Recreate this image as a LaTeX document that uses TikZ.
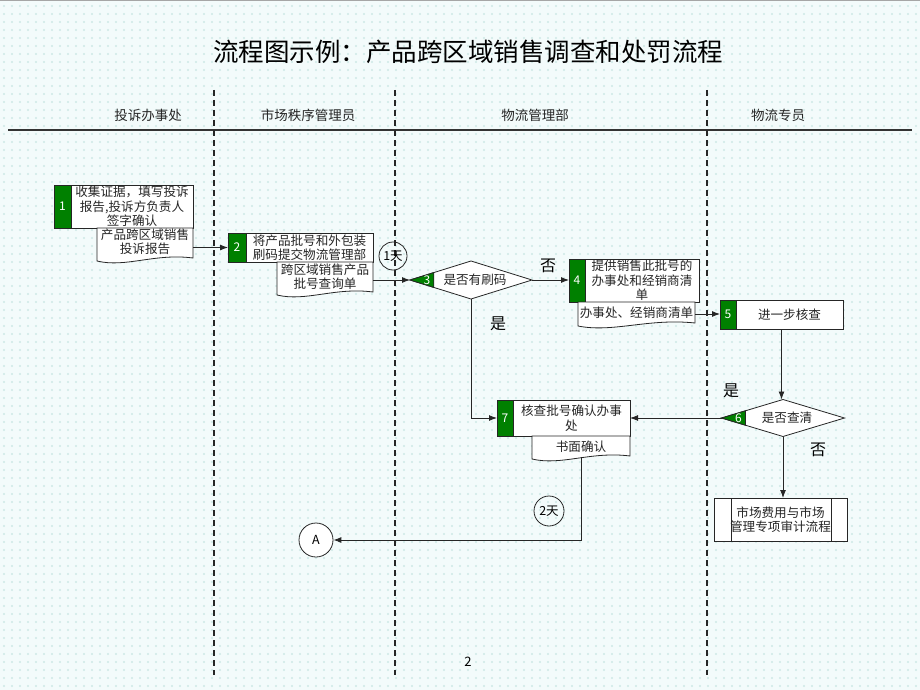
\documentclass[tikz,border=0pt]{standalone}
\usepackage{fontspec}
\setmainfont{Noto Sans CJK SC}
\usetikzlibrary{arrows.meta,patterns,calc}
\definecolor{bgc}{RGB}{243,251,251}
\definecolor{dotc}{RGB}{205,232,230}
\definecolor{gr}{RGB}{0,128,0}
\pgfdeclarepatternformonly{bgdots}{\pgfpoint{-1pt}{-1pt}}{\pgfpoint{9pt}{9pt}}{\pgfpoint{8pt}{8pt}}{\pgfpathcircle{\pgfpoint{4pt}{4pt}}{1.1pt}\pgfusepath{fill}}
\newcommand\docoutline[1]{%
  \draw[docline] (#1.south west) -- (#1.north west) -- (#1.north east) -- ($(#1.south east)+(0,-3)$)
    .. controls ($(#1.south west)!0.6!(#1.south east)+(0,-8)$) and ($(#1.south west)!0.3!(#1.south east)+(0,7)$) .. (#1.south west) -- cycle;}
\newcommand\diamondoutline[2]{%
  \draw[docline] (#1.west) -- (#1.north) -- (#1.east) -- (#1.south) -- cycle;
  \draw[docline, fill=gr] (#1.west) -- ($(#1.west)!#2!(#1.north)$) -- ($(#1.west)!#2!(#1.south)$) -- cycle;}
\begin{document}
\begin{tikzpicture}[x=1pt,y=-1pt,
  bx/.style={draw=black!85, fill=white, line width=0.8pt, rectangle, inner sep=0pt, outer sep=0pt, anchor=north west},
  area/.style={rectangle, inner sep=0pt, outer sep=0pt, anchor=north west},
  docline/.style={draw=black!85, fill=white, line width=0.8pt},
  stripe/.style={draw=black!85, fill=gr, line width=0.8pt},
  num/.style={text=white, font=\fontsize{12}{14}\selectfont, inner sep=0pt},
  txt/.style={align=center, font=\fontsize{12.6}{14.4}\selectfont, inner sep=0pt, text=black!85},
  lbl/.style={font=\fontsize{16}{18}\selectfont, inner sep=0pt},
  hdr/.style={font=\fontsize{13.5}{15}\selectfont, inner sep=0pt, text=black!85},
  circ/.style={draw=black!85, circle, line width=0.8pt, inner sep=0pt, font=\fontsize{12.5}{14}\selectfont},
  lane/.style={dashed, dash pattern=on 6pt off 4pt, line width=1.1pt, black!85},
  arr/.style={line width=0.9pt, black!85, -{Latex[length=8pt,width=6pt]}}]
\useasboundingbox (0,0) rectangle (920,690);
\fill[bgc] (0,0) rectangle (920,690);
\fill[pattern=bgdots, pattern color=dotc] (0,0) rectangle (920,690);
\draw[gray!70, line width=1.5pt] (0,0.75) -- (920,0.75);

% title and headers
\node[font=\fontsize{25.5}{28}\selectfont, inner sep=0pt] (title) at (468,52) {流程图示例：产品跨区域销售调查和处罚流程};
\node[hdr] (h1) at (148,115) {投诉办事处};
\node[hdr] (h2) at (308,115) {市场秩序管理员};
\node[hdr] (h3) at (535,115) {物流管理部};
\node[hdr] (h4) at (778,115) {物流专员};
\draw[black!80, line width=1.8pt] (8,130) -- (912,130);
\draw[lane] (214,90) -- (214,675);
\draw[lane] (395,90) -- (395,675);
\draw[lane] (707,90) -- (707,675);

% box 1 and its document
\node[bx, minimum width=139pt, minimum height=43pt] (b1) at (54,185) {};
\draw[stripe] (b1.north west) rectangle ([xshift=17pt]b1.south west);
\node[num] (n1) at ($(b1.west)+(8.5,0)$) {1};
\node[txt] (t1) at ($(b1.west)!0.5!(b1.east)+(8.5,0)$) {收集证据，填写投诉\\报告,投诉方负责人\\签字确认};
\node[area, minimum width=96pt, minimum height=33pt] (dc1) at (97,228) {};
\docoutline{dc1}
\node[txt] (dt1) at ($(dc1.center)+(0,-3)$) {产品跨区域销售\\投诉报告};

% box 2 and its document
\node[bx, minimum width=145pt, minimum height=29pt] (b2) at (228,233) {};
\draw[stripe] (b2.north west) rectangle ([xshift=18pt]b2.south west);
\node[num] (n2) at ($(b2.west)+(9,0)$) {2};
\node[txt] (t2) at ($(b2.west)!0.5!(b2.east)+(9,0)$) {将产品批号和外包装\\刷码提交物流管理部};
\node[area, minimum width=96pt, minimum height=33pt] (dc2) at (277,262) {};
\docoutline{dc2}
\node[txt] (dt2) at ($(dc2.center)+(0,-2)$) {跨区域销售产品\\批号查询单};
\node[circ, minimum size=28pt] (c1) at (393,256) {1天};

% decision 3
\node[rectangle, inner sep=0pt, outer sep=0pt, minimum width=122pt, minimum height=38pt] (d3) at (471,280) {};
\diamondoutline{d3}{0.39}
\node[num] (n3) at ($(d3.west)+(17,0)$) {3};
\node[txt] (t3) at ($(d3.center)+(4,0)$) {是否有刷码};
\node[lbl] (no3) at (548,266) {否};
\node[lbl] (yes3) at (498,324) {是};

% box 4 and its document
\node[bx, minimum width=130pt, minimum height=43pt] (b4) at (569,259) {};
\draw[stripe] (b4.north west) rectangle ([xshift=16pt]b4.south west);
\node[num] (n4) at ($(b4.west)+(8,0)$) {4};
\node[txt] (t4) at ($(b4.west)!0.5!(b4.east)+(8,0)$) {提供销售此批号的\\办事处和经销商清\\单};
\node[area, minimum width=117pt, minimum height=24pt] (dc4) at (578,302) {};
\docoutline{dc4}
\node[txt] (dt4) at ($(dc4.center)+(0,-1)$) {办事处、经销商清单};

% box 5
\node[bx, minimum width=123pt, minimum height=29pt] (b5) at (720,300) {};
\draw[stripe] (b5.north west) rectangle ([xshift=16pt]b5.south west);
\node[num] (n5) at ($(b5.west)+(8,0)$) {5};
\node[txt] (t5) at ($(b5.west)!0.5!(b5.east)+(8,0)$) {进一步核查};

% decision 6
\node[rectangle, inner sep=0pt, outer sep=0pt, minimum width=123pt, minimum height=37pt] (d6) at (783,418) {};
\diamondoutline{d6}{0.39}
\node[num] (n6) at ($(d6.west)+(17,0)$) {6};
\node[txt] (t6) at ($(d6.center)+(4,0)$) {是否查清};
\node[lbl] (yes6) at (731,391) {是};
\node[lbl] (no6) at (818,450) {否};

% box 7 and its document
\node[bx, minimum width=133pt, minimum height=36pt] (b7) at (497,400) {};
\draw[stripe] (b7.north west) rectangle ([xshift=16pt]b7.south west);
\node[num] (n7) at ($(b7.west)+(8,0)$) {7};
\node[txt] (t7) at ($(b7.west)!0.5!(b7.east)+(8,0)$) {核查批号确认办事\\处};
\node[area, minimum width=98pt, minimum height=23pt] (dc7) at (532,436) {};
\docoutline{dc7}
\node[txt] (dt7) at ($(dc7.center)+(0,-1)$) {书面确认};

% box 8 (predefined process)
\node[bx, minimum width=133pt, minimum height=43pt] (b8) at (714,498) {};
\draw[black!85, line width=0.8pt] ([xshift=17pt]b8.north west) -- ([xshift=17pt]b8.south west);
\draw[black!85, line width=0.8pt] ([xshift=-16pt]b8.north east) -- ([xshift=-16pt]b8.south east);
\node[txt] (t8) at (b8.center) {市场费用与市场\\管理专项审计流程};

% connectors' circles
\node[circ, minimum size=30pt] (c2) at (549,511) {2天};
\node[circ, minimum size=34pt, fill=white] (A) at (316,540) {A};

% connectors
\draw[arr] (dc1.east |- b2.west) -- (b2.west);
\draw[arr] (dc2.east |- d3.west) -- (d3.west);
\draw[arr] (d3.east) -- (d3.east -| b4.west);
\draw[arr] (dc4.east) -- (dc4.east -| b5.west);
\draw[arr] (b5.south) -- (b5.south |- d6.north);
\draw[arr] (d6.west) -- (d6.west -| b7.east);
\draw[arr] (d3.south) |- (b7.west);
\draw[arr] (d6.south) -- (d6.south |- b8.north);
\draw[arr] ($(dc7.south)+(0,-2)$) |- (A.east);

\node[font=\fontsize{13}{15}\selectfont, inner sep=0pt] (page) at (468,662) {2};
\end{tikzpicture}
\end{document}
